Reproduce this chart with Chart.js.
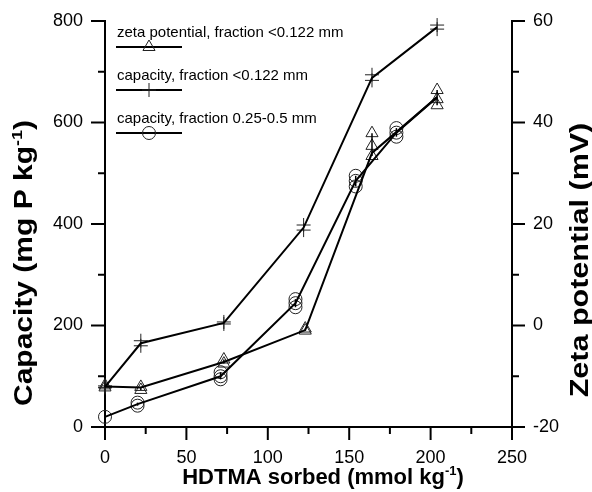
<!DOCTYPE html>
<html><head><meta charset="utf-8">
<script src="https://cdn.jsdelivr.net/npm/chart.js@4.4.0/dist/chart.umd.min.js"></script>
<style>html,body{margin:0;padding:0;background:#fff;}</style>
</head><body>
<canvas id="c" width="592" height="492"></canvas>
<script>
// ---------- data ----------
const legendLabels = ['zeta potential, fraction <0.122 mm', 'capacity, fraction <0.122 mm', 'capacity, fraction 0.25-0.5 mm'];
const xTicks = [0, 50, 100, 150, 200, 250];
const yTicks = [0, 200, 400, 600, 800];
const y2Ticks = [-20, 0, 20, 40, 60];
const xTitleParts = ['HDTMA sorbed (mmol kg', '-1', ')'];
const yTitleParts = ['Capacity (mg P kg', '-1', ')'];
const y2TitleParts = ['Zeta potential (mV)', '', ''];

// zeta potential, fraction <0.122 mm (right axis, mV)
const zetaX = [0, 22, 73, 123, 164, 204];
const zetaMean = [-12, -12.2, -7.2, -0.9, 34, 45];
const zetaRepX = [0, 0, 22, 22, 73, 73, 123, 123, 164, 164, 164, 204, 204, 204];
const zetaRep = [-12.2, -11.8, -12.7, -12.1, -6.7, -7.5, -1.0, -0.6, 37.9, 35.4, 33.4, 46.4, 44.6, 43.4];

// capacity, fraction <0.122 mm (left axis, mg P/kg)
const capFineX = [0, 22, 73, 122, 164, 204];
const capFine = [79, 165, 205, 393, 688, 788];
const capFineRepX = [0, 0, 22, 22, 73, 73, 122, 122, 164, 164, 204, 204];
const capFineRep = [78, 81, 170, 160, 207, 203, 398, 388, 694, 683, 792, 784];

// capacity, fraction 0.25-0.5 mm (left axis, mg P/kg)
const capCoarseX = [0, 20, 71, 117, 154, 179, 204];
const capCoarse = [20, 45, 100, 244, 485, 580, 650];
const capCoarseRepX = [0, 20, 20, 71, 71, 71, 117, 117, 117, 154, 154, 154, 179, 179, 179];
const capCoarseRep = [20, 48, 42, 108, 100, 94, 252, 244, 236, 495, 485, 474, 589, 580, 572];

// ---------- helpers ----------
const pts = (xs, ys) => xs.map((x, i) => ({x: x, y: ys[i]}));
const FONT = '"Liberation Sans", Arial, sans-serif';
const markerColor = '#222';

const lineDs = (label, xs, ys, axis) => ({
  label, data: pts(xs, ys), yAxisID: axis, showLine: true, borderColor: '#000', borderWidth: 2,
  pointRadius: 0, tension: 0, clip: false, fill: false
});
const markDs = (label, xs, ys, axis, style, r) => ({
  label, data: pts(xs, ys), yAxisID: axis, showLine: false, pointStyle: style, pointRadius: r,
  pointBorderColor: markerColor, pointBackgroundColor: 'rgba(0,0,0,0)', pointBorderWidth: 1, clip: false
});

const legendSpec = [
  {style: 'triangle', r: 7},
  {style: 'cross', r: 7},
  {style: 'circle', r: 6.5}
];

// ---------- plugins ----------
const tickPlugin = {
  id: 'ticks',
  afterDraw(chart) {
    const ctx = chart.ctx, ca = chart.chartArea;
    const sx = chart.scales.x, sy = chart.scales.y, sy2 = chart.scales.y2;
    ctx.save();
    ctx.strokeStyle = '#000'; ctx.lineWidth = 2;
    const seg = (x1, y1, x2, y2) => { ctx.beginPath(); ctx.moveTo(x1, y1); ctx.lineTo(x2, y2); ctx.stroke(); };
    const withMinor = arr => {
      const out = [];
      arr.forEach((v, i) => { out.push([v, true]); if (i < arr.length - 1) out.push([(v + arr[i + 1]) / 2, false]); });
      return out;
    };
    withMinor(xTicks).forEach(([v, major]) => { const p = sx.getPixelForValue(v); seg(p, ca.bottom, p, ca.bottom + (major ? 13 : 7)); });
    withMinor(yTicks).forEach(([v, major]) => { const p = sy.getPixelForValue(v); seg(ca.left, p, ca.left - (major ? 14 : 7), p); });
    withMinor(y2Ticks).forEach(([v, major]) => { const p = sy2.getPixelForValue(v); seg(ca.right, p, ca.right + (major ? 13 : 7), p); });
    ctx.restore();
  }
};

const errPlugin = {
  id: 'errbars',
  afterDatasetsDraw(chart) {
    const ctx = chart.ctx;
    const groups = [[zetaRepX, zetaRep, 'y2'], [capCoarseRepX, capCoarseRep, 'y']];
    ctx.save(); ctx.strokeStyle = '#000'; ctx.lineWidth = 1.5;
    groups.forEach(([xs, ys, ax]) => {
      const m = {};
      xs.forEach((x, i) => { (m[x] = m[x] || []).push(ys[i]); });
      Object.keys(m).forEach(k => {
        const v = m[k]; if (v.length < 2) return;
        const px = chart.scales.x.getPixelForValue(+k);
        ctx.beginPath();
        ctx.moveTo(px, chart.scales[ax].getPixelForValue(Math.min(...v)));
        ctx.lineTo(px, chart.scales[ax].getPixelForValue(Math.max(...v)));
        ctx.stroke();
      });
    });
    ctx.restore();
  }
};

function drawTitle(ctx, parts, cx, cy, size, rot, stretch) {
  ctx.save();
  ctx.translate(cx, cy); ctx.rotate(rot); ctx.scale(stretch, 1);
  ctx.fillStyle = '#000'; ctx.textBaseline = 'alphabetic'; ctx.textAlign = 'left';
  const big = 'bold ' + size + 'px ' + FONT, small = 'bold ' + Math.round(size * 0.6) + 'px ' + FONT;
  ctx.font = big; const w0 = ctx.measureText(parts[0]).width, w2 = ctx.measureText(parts[2]).width;
  ctx.font = small; const w1 = ctx.measureText(parts[1]).width;
  let x = -(w0 + w1 + w2) / 2; const y = size * 0.36;
  ctx.font = big; ctx.fillText(parts[0], x, y); x += w0;
  ctx.font = small; ctx.fillText(parts[1], x, y - size * 0.4); x += w1;
  ctx.font = big; ctx.fillText(parts[2], x, y);
  ctx.restore();
}

const decoPlugin = {
  id: 'deco',
  afterDraw(chart) {
    const ctx = chart.ctx;
    drawTitle(ctx, xTitleParts, 323, 476, 22, 0, 1);
    drawTitle(ctx, yTitleParts, 23, 263, 25, -Math.PI / 2, 1.2);
    drawTitle(ctx, y2TitleParts, 579, 260, 25, -Math.PI / 2, 1.22);
    // legend
    ctx.save();
    legendLabels.forEach((t, i) => {
      const ly = 47 + i * 43;
      ctx.fillStyle = '#000'; ctx.font = '15px ' + FONT; ctx.textBaseline = 'alphabetic'; ctx.textAlign = 'left';
      ctx.fillText(t, 117, ly - 10);
      ctx.strokeStyle = '#000'; ctx.lineWidth = 2;
      ctx.beginPath(); ctx.moveTo(116, ly); ctx.lineTo(182, ly); ctx.stroke();
      ctx.strokeStyle = markerColor; ctx.fillStyle = 'rgba(0,0,0,0)'; ctx.lineWidth = 1;
      Chart.helpers.drawPoint(ctx, {pointStyle: legendSpec[i].style, radius: legendSpec[i].r, borderWidth: 1, rotation: 0}, 149, ly);
    });
    ctx.restore();
  }
};

// ---------- chart ----------
const tickFont = {size: 18, family: FONT};
const noPadY = s => { s.paddingTop = 0; s.paddingBottom = 0; };
new Chart(document.getElementById('c'), {
  type: 'scatter',
  data: {
    datasets: [
      lineDs(legendLabels[0], zetaX, zetaMean, 'y2'),
      lineDs(legendLabels[1], capFineX, capFine, 'y'),
      lineDs(legendLabels[2], capCoarseX, capCoarse, 'y'),
      markDs(legendLabels[0], zetaRepX, zetaRep, 'y2', 'triangle', 7),
      markDs(legendLabels[1], capFineRepX, capFineRep, 'y', 'cross', 7),
      markDs(legendLabels[2], capCoarseRepX, capCoarseRep, 'y', 'circle', 6.5)
    ]
  },
  options: {
    responsive: false, animation: false, devicePixelRatio: 1,
    layout: {padding: {top: 21, left: 0, right: 0, bottom: 0}},
    plugins: {legend: {display: false}, tooltip: {enabled: false}},
    scales: {
      x: {
        type: 'linear', min: 0, max: 250,
        afterBuildTicks: s => { s.ticks = xTicks.map(v => ({value: v})); },
        afterFit: s => { s.height = 65; s.paddingLeft = 0; s.paddingRight = 0; },
        ticks: {color: '#000', font: tickFont, padding: 20, maxRotation: 0, autoSkip: false},
        grid: {display: false, drawTicks: false},
        border: {display: true, color: '#000', width: 2}
      },
      y: {
        type: 'linear', position: 'left', min: 0, max: 800,
        afterBuildTicks: s => { s.ticks = yTicks.map(v => ({value: v})); },
        afterFit: s => { s.width = 105; noPadY(s); },
        ticks: {color: '#000', font: tickFont, padding: 22, autoSkip: false},
        grid: {display: false, drawTicks: false},
        border: {display: true, color: '#000', width: 2}
      },
      y2: {
        type: 'linear', position: 'right', min: -20, max: 60,
        afterBuildTicks: s => { s.ticks = y2Ticks.map(v => ({value: v})); },
        afterFit: s => { s.width = 80; noPadY(s); },
        ticks: {color: '#000', font: tickFont, padding: 21, autoSkip: false},
        grid: {display: false, drawTicks: false},
        border: {display: true, color: '#000', width: 2}
      }
    }
  },
  plugins: [tickPlugin, errPlugin, decoPlugin]
});
</script>
</body></html>
